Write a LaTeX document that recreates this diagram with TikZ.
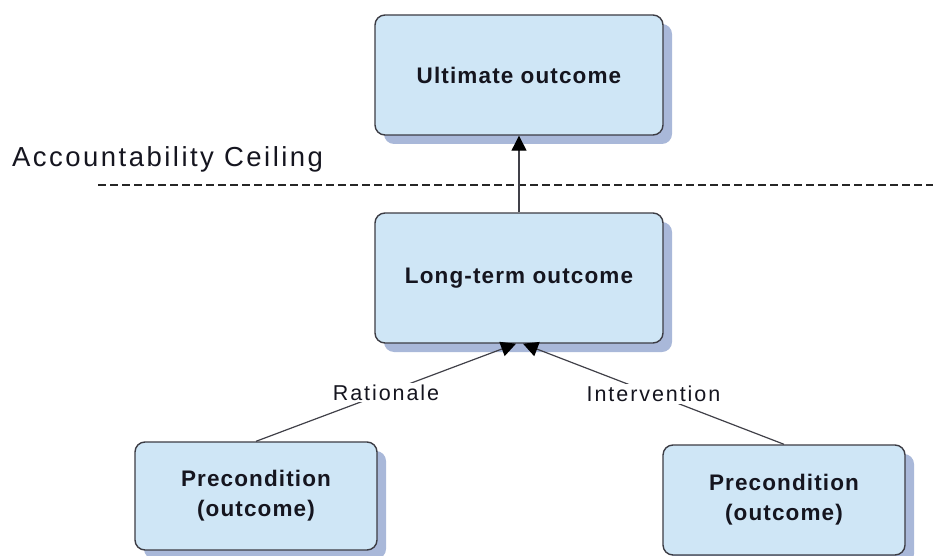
\documentclass[tikz,border=0pt]{standalone}
\usepackage{fontspec}
\setmainfont{Liberation Sans}
\usetikzlibrary{arrows.meta,shadows}

\definecolor{boxfill}{HTML}{CFE6F6}
\definecolor{boxshadow}{HTML}{A9B8D9}
\definecolor{boxline}{HTML}{3C3C44}
\definecolor{inktext}{HTML}{15151F}
\definecolor{linkc}{HTML}{404048}

\tikzset{
  outcome/.style={
    rectangle, rounded corners=10pt, draw=boxline, line width=1.4pt,
    fill=boxfill, text=inktext, align=center,
    font=\fontsize{22.5}{30}\selectfont\bfseries\addfontfeature{LetterSpace=5},
    general shadow={fill=boxshadow, shadow xshift=9pt, shadow yshift=-9pt}
  },
  linklabel/.style={
    fill=white, inner sep=2pt, text=inktext,
    font=\fontsize{21.5}{25}\selectfont\addfontfeature{LetterSpace=9}
  },
  link/.style={draw=linkc, line width=1.2pt},
  uptip/.style={-{Triangle[length=15pt,width=15pt,color=black,fill=black]}}
}

\begin{document}
\begin{tikzpicture}[x=1pt,y=-1pt]
  \useasboundingbox (0,0) rectangle (933,556);

  % outcome boxes
  \node[outcome, minimum width=288pt, minimum height=120pt] (ult) at (519,75) {Ultimate outcome};
  \node[outcome, minimum width=288pt, minimum height=130pt] (long) at (519,278) {Long-term outcome};
  \node[outcome, minimum width=242pt, minimum height=108pt] (preL) at (256,496) {Precondition\\(outcome)};
  \node[outcome, minimum width=242pt, minimum height=110pt] (preR) at (784,500) {Precondition\\(outcome)};

  % accountability ceiling
  \node[anchor=base west, inner sep=0pt, text=inktext,
        font=\fontsize{27.5}{32}\selectfont\addfontfeature{LetterSpace=9}] (ceil) at (12,167) {Accountability Ceiling};
  \coordinate (ceilA) at (98,185);
  \coordinate (ceilB) at (933,185);
  \draw[line width=1.5pt, draw=black!85, dash pattern=on 8pt off 4pt] (ceilA) -- (ceilB);

  % connectors
  \draw[link, uptip] (long.north) -- (ult.south);
  \draw[link, uptip] (preL.north) -- node[linklabel] (rat) {Rationale} ([xshift=-3pt]long.south);
  \draw[link, uptip] (preR.north) -- node[linklabel] (int) {Intervention} ([xshift=4pt]long.south);
\end{tikzpicture}
\end{document}
